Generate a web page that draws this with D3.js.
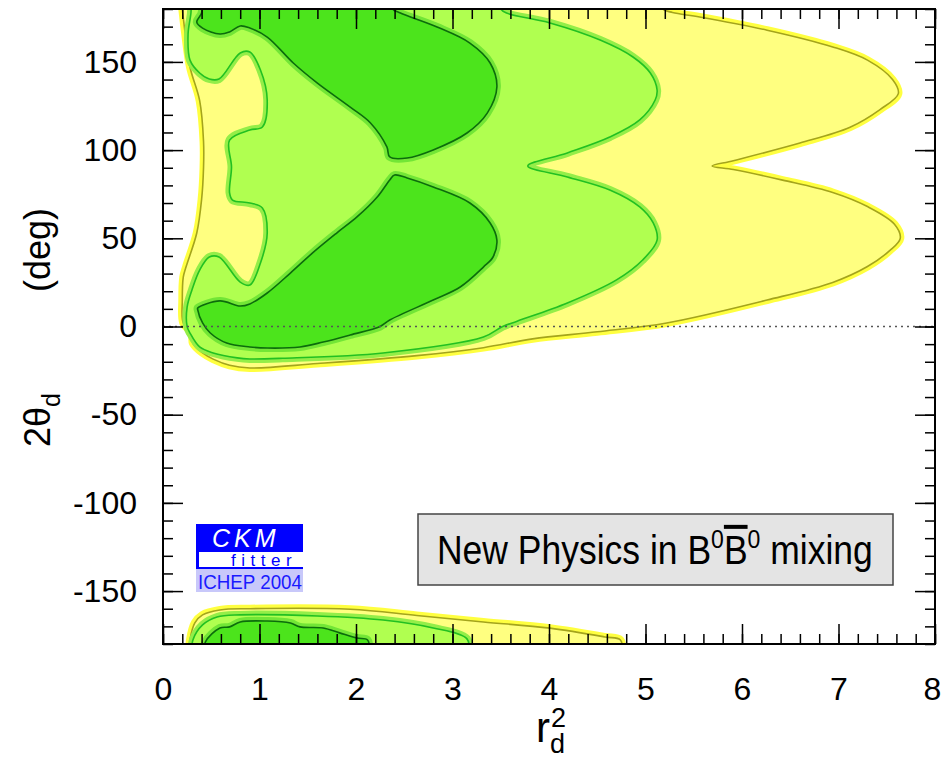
<!DOCTYPE html>
<html>
<head>
<meta charset="utf-8">
<script src="https://cdn.jsdelivr.net/npm/d3@7"></script>
<style>
  body { margin: 0; background: #fff; }
  svg { display: block; }
  text { font-family: "Liberation Sans", Arial, Helvetica, sans-serif; }
</style>
</head>
<body>
<div id="chart"></div>
<script>
// contours of 1-CL: [r_d^2, 2theta_d (deg)]
const yellowUpper = [[0.19, 185], [0.20, 180], [0.23, 166], [0.28, 147], [0.38, 128], [0.42, 105], [0.42, 90], [0.40, 72], [0.35, 53], [0.24, 34], [0.21, 28], [0.20, 15], [0.21, 2], [0.30, -4], [0.31, -9.5], [0.41, -15], [0.52, -18.5], [0.69, -22], [0.90, -23.5], [1.60, -21], [2.63, -16.5], [3.32, -12], [3.83, -7], [4.5, -3], [5.22, 2], [6.26, 15], [6.94, 25], [7.30, 34], [7.53, 43], [7.64, 50], [7.58, 58], [7.30, 68], [6.94, 76], [6.42, 83], [5.91, 89], [5.69, 91], [5.91, 94], [6.60, 104], [7.12, 113], [7.43, 123], [7.62, 132], [7.56, 140], [7.30, 151], [6.94, 158.5], [6.26, 168], [5.56, 175.5], [5.28, 178], [5.18, 180], [5.15, 185]];
const yellowLower = [[0.27, -185], [0.28, -177.5], [0.33, -168], [0.41, -163.5], [0.59, -160.7], [0.90, -160], [1.94, -160.3], [2.63, -163.8], [3.32, -167.5], [4.01, -171], [4.58, -176], [4.74, -177.7], [4.76, -185]];

const greenUpper = [[0.29, 185], [0.29, 178], [0.26, 166], [0.28, 151], [0.38, 143.7], [0.48, 140.3], [0.58, 140.3], [0.80, 155.1], [0.90, 155.6], [1.01, 145.4], [1.08, 128.4], [1.03, 113.1], [0.90, 111.4], [0.69, 105.7], [0.71, 90.4], [0.69, 75.7], [0.72, 71.7], [0.90, 70.0], [1.03, 67.2], [1.08, 53.0], [1.01, 36.0], [0.90, 23.5], [0.80, 25.2], [0.58, 39.4], [0.48, 39.4], [0.38, 32.0], [0.30, 20.7], [0.25, 11], [0.25, 0], [0.28, -3.7], [0.38, -11.6], [0.52, -15], [0.77, -17.8], [0.90, -18.4], [1.24, -18], [2.28, -15], [3.32, -6], [3.52, 0], [3.67, 3], [4.19, 13.3], [4.70, 26.4], [4.97, 37.7], [5.12, 49], [5.08, 58.7], [4.94, 67.8], [4.63, 77.4], [4.19, 84.8], [3.78, 91], [4.19, 98.4], [4.63, 107.4], [4.94, 117.1], [5.10, 128.4], [5.12, 134.1], [5.05, 143.7], [4.87, 152.8], [4.53, 162.4], [4.01, 172.1], [3.56, 177.7], [3.50, 180], [3.48, 185]];
const greenLower = [[0.30, -185], [0.31, -177.7], [0.41, -169.2], [0.56, -164.7], [0.80, -163.5], [1.60, -164.1], [2.28, -166.4], [2.80, -170.9], [3.15, -177.1], [3.17, -185]];

const darkTop = [[0.40, 185], [0.40, 177.7], [0.35, 172.6], [0.41, 169.2], [0.59, 165.8], [0.69, 167.0], [0.80, 170.4], [0.90, 169.2], [1.08, 164.1], [1.35, 149.4], [1.60, 138.0], [1.94, 124.4], [2.15, 115.4], [2.32, 101.8], [2.35, 96.1], [2.53, 95.5], [2.80, 100.1], [3.15, 109.7], [3.36, 121.0], [3.46, 135.8], [3.39, 149.4], [3.18, 160.7], [2.84, 169.8], [2.46, 177.7], [2.38, 180], [2.37, 185]];
const darkMiddle = [[0.36, 10.5], [0.59, 14.5], [0.80, 11.6], [0.90, 12.8], [1.08, 19.0], [1.32, 30.3], [1.55, 41.7], [1.80, 53.0], [2.01, 62.1], [2.22, 73.4], [2.35, 83.1], [2.40, 85.9], [2.53, 84.2], [2.80, 79.1], [3.18, 70.0], [3.39, 58.7], [3.46, 49.0], [3.42, 39.4], [3.32, 33.7], [3.08, 22.4], [2.80, 15.0], [2.35, 3.7], [2.25, 0], [1.94, -4.8], [1.66, -8.8], [1.42, -11.6], [1.08, -12.2], [0.90, -11.6], [0.66, -9.4], [0.49, -3.7], [0.41, 2], [0.36, 9.4]];
const darkLower = [[0.43, -185], [0.44, -178.8], [0.59, -170.9], [0.69, -170.3], [0.80, -167.5], [1.08, -167.0], [1.32, -168.1], [1.42, -170.3], [1.66, -170.9], [1.83, -173.7], [2.01, -176.6], [2.12, -177.7], [2.14, -185]];

const xMajorTicks = [0, 1, 2, 3, 4, 5, 6, 7, 8];
const yMajorTicks = [-150, -100, -50, 0, 50, 100, 150];

const width = 943, height = 760;
const plot = { left: 163, right: 935, top: 9, bottom: 644 };

const svg = d3.select("#chart").append("svg")
  .attr("width", width)
  .attr("height", height);

const x = d3.scaleLinear().domain([0, 8]).range([plot.left, plot.right]);
const y = d3.scaleLinear().domain([-180, 180]).range([plot.bottom, plot.top]);

svg.append("defs").append("clipPath").attr("id", "plotclip")
  .append("rect")
  .attr("x", plot.left).attr("y", plot.top)
  .attr("width", plot.right - plot.left).attr("height", plot.bottom - plot.top);

// closed = contour that does not touch the +-180 edges
const levels = [
  { fill: "#ffff80", halo: "#ffff40", line: "#a4a41c", shapes: [{ pts: yellowUpper }, { pts: yellowLower }] },
  { fill: "#b0ff50", halo: "#94ee48", line: "#22c022", shapes: [{ pts: greenUpper }, { pts: greenLower }] },
  { fill: "#4ce41c", halo: "#72e636", line: "#0c6c0c", shapes: [{ pts: darkTop }, { pts: darkMiddle, closed: true }, { pts: darkLower }] }
];

const openLine = d3.line().x(d => x(d[0])).y(d => y(d[1])).curve(d3.curveCatmullRom.alpha(0.5));
const closedLine = d3.line().x(d => x(d[0])).y(d => y(d[1])).curve(d3.curveCatmullRomClosed.alpha(0.5));
const shapePath = s => s.closed ? closedLine(s.pts) : openLine(s.pts) + "Z";

const g = svg.append("g").attr("clip-path", "url(#plotclip)");

levels.forEach(lv => {
  const lg = g.append("g");
  lg.selectAll(".halo").data(lv.shapes).join("path")
    .attr("d", shapePath)
    .attr("fill", "none").attr("stroke", lv.halo)
    .attr("stroke-width", 8).attr("stroke-linejoin", "round");
  lg.selectAll(".area").data(lv.shapes).join("path")
    .attr("d", shapePath)
    .attr("fill", lv.fill);
  lg.selectAll(".edge").data(lv.shapes).join("path")
    .attr("d", shapePath)
    .attr("fill", "none").attr("stroke", lv.line)
    .attr("stroke-width", 1.6).attr("stroke-linejoin", "round");
});

// zero line
svg.append("line")
  .attr("x1", x(0)).attr("x2", x(8))
  .attr("y1", y(0)).attr("y2", y(0))
  .attr("stroke", "#555").attr("stroke-width", 1.5)
  .attr("stroke-dasharray", "2,4");

// axes with inward ticks
const xMinor = d3.range(0, 8.001, 0.2);
const yMinor = d3.range(-180, 180.001, 10);
const fontStack = '"Liberation Sans", Arial, Helvetica, sans-serif';
const plain = d => String(d);

function styleAxis(sel) {
  sel.select(".domain").remove();
  sel.selectAll("line").attr("stroke", "#000").attr("stroke-width", 1.5);
  sel.attr("font-family", fontStack).attr("font-size", 32);
  sel.selectAll("text").attr("fill", "#000");
}

svg.append("g").attr("transform", `translate(0,${plot.bottom})`)
  .call(d3.axisBottom(x).tickValues(xMinor).tickSize(-10).tickFormat(""))
  .call(styleAxis);
const xLab = svg.append("g").attr("transform", `translate(0,${plot.bottom})`)
  .call(d3.axisBottom(x).tickValues(xMajorTicks).tickSize(-20).tickPadding(33).tickFormat(plain))
  .call(styleAxis);
// keep the last label inside the page
xLab.selectAll("text").filter(d => d === 8).attr("dx", -3);
svg.append("g").attr("transform", `translate(0,${plot.top})`)
  .call(d3.axisTop(x).tickValues(xMinor).tickSize(-10).tickFormat(""))
  .call(styleAxis);
svg.append("g").attr("transform", `translate(0,${plot.top})`)
  .call(d3.axisTop(x).tickValues(xMajorTicks).tickSize(-20).tickFormat(""))
  .call(styleAxis);

svg.append("g").attr("transform", `translate(${plot.left},0)`)
  .call(d3.axisLeft(y).tickValues(yMinor).tickSize(-10).tickFormat(""))
  .call(styleAxis);
svg.append("g").attr("transform", `translate(${plot.left},0)`)
  .call(d3.axisLeft(y).tickValues(yMajorTicks).tickSize(-20).tickPadding(26).tickFormat(plain))
  .call(styleAxis);
svg.append("g").attr("transform", `translate(${plot.right},0)`)
  .call(d3.axisRight(y).tickValues(yMinor).tickSize(-10).tickFormat(""))
  .call(styleAxis);
svg.append("g").attr("transform", `translate(${plot.right},0)`)
  .call(d3.axisRight(y).tickValues(yMajorTicks).tickSize(-20).tickFormat(""))
  .call(styleAxis);

// frame
svg.append("rect")
  .attr("x", plot.left).attr("y", plot.top)
  .attr("width", plot.right - plot.left).attr("height", plot.bottom - plot.top)
  .attr("fill", "none").attr("stroke", "#000").attr("stroke-width", 2);

// axis titles
const xt = svg.append("text")
  .attr("x", 536).attr("y", 742)
  .attr("font-size", 42).attr("fill", "#000");
xt.append("tspan").text("r");
xt.append("tspan").attr("font-size", 27).attr("dy", 11).text("d");
xt.append("tspan").attr("font-size", 27).attr("dx", -14).attr("dy", -26).text("2");

const yt = svg.append("text")
  .attr("transform", "translate(50,447) rotate(-90)")
  .attr("font-size", 36).attr("fill", "#000");
yt.append("tspan").text("2θ");
yt.append("tspan").attr("font-size", 25).attr("dy", 10).text("d");
yt.append("tspan").attr("x", 155).attr("dy", -10).text("(deg)");

// caption box
svg.append("rect")
  .attr("x", 418).attr("y", 514).attr("width", 475).attr("height", 71)
  .attr("fill", "#e4e4e4").attr("stroke", "#444").attr("stroke-width", 1.5);
const cap = svg.append("text").attr("font-size", 40).attr("fill", "#000");
cap.append("tspan").text("New Physics in B");
cap.append("tspan").attr("font-size", 26).attr("dy", -16).text("0");
cap.append("tspan").attr("dy", 16).style("text-decoration", "overline").text("B");
cap.append("tspan").attr("font-size", 26).attr("dy", -16).text("0");
cap.append("tspan").attr("dy", 16).text(" mixing");
const capW = cap.node().getComputedTextLength();
cap.attr("transform", `translate(437,564) scale(${436 / capW},1)`);

// CKMfitter logo
svg.append("rect").attr("x", 196).attr("y", 524).attr("width", 107).attr("height", 45).attr("fill", "#0000ff");
svg.append("rect").attr("x", 199).attr("y", 552).attr("width", 104).attr("height", 15).attr("fill", "#fff");
svg.append("rect").attr("x", 196).attr("y", 569).attr("width", 107).attr("height", 23).attr("fill", "#c8c8fa");
svg.append("text").attr("x", 212).attr("y", 547)
  .attr("font-size", 25).attr("font-style", "italic").attr("letter-spacing", 4)
  .attr("fill", "#fff").text("CKM");
svg.append("text").attr("x", 231).attr("y", 566)
  .attr("font-size", 17).attr("letter-spacing", 5.5)
  .attr("fill", "#0000ff").text("fitter");
svg.append("text").attr("x", 198).attr("y", 589)
  .attr("font-size", 21).attr("textLength", 104).attr("lengthAdjust", "spacingAndGlyphs")
  .attr("fill", "#1a1aff").text("ICHEP 2004");
</script>
</body>
</html>
